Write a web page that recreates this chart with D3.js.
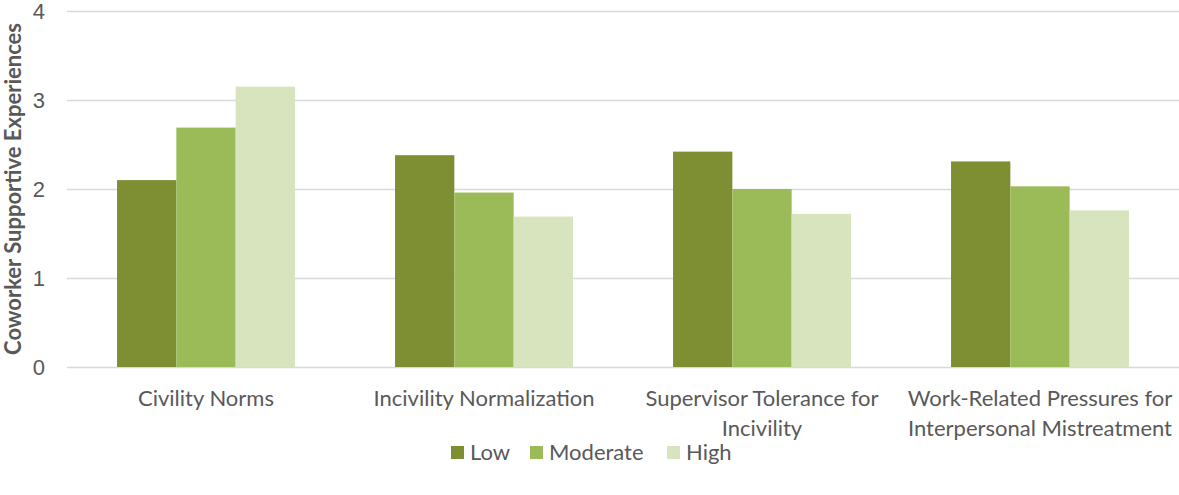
<!DOCTYPE html>
<html>
<head>
<meta charset="utf-8">
<script src="https://cdn.jsdelivr.net/npm/d3@7/dist/d3.min.js"></script>
<style>
  html, body { margin: 0; padding: 0; background: #fff; }
  svg { display: block; font-family: Lato, "Open Sans", sans-serif; }
</style>
</head>
<body>
<svg id="chart" width="1179" height="495"></svg>
<script>
// Coworker supportive experiences by climate dimension and level
const categories = [
  ["Civility Norms"],
  ["Incivility Normalization"],
  ["Supervisor Tolerance for", "Incivility"],
  ["Work-Related Pressures for", "Interpersonal Mistreatment"]
];
const seriesNames = ["Low", "Moderate", "High"];
const lowValues = [2.10, 2.38, 2.42, 2.31];
const moderateValues = [2.69, 1.96, 2.00, 2.03];
const highValues = [3.15, 1.69, 1.72, 1.76];
const yTicks = [0, 1, 2, 3, 4];
const colors = ["#7E8F33", "#9BBB59", "#D7E4BD"];

const svg = d3.select("#chart");
const margin = { left: 67, right: 0, top: 11, bottom: 128 };
const W = 1179, H = 495;
const x0 = d3.scaleBand()
  .domain(d3.range(categories.length))
  .range([margin.left, W - margin.right])
  .paddingInner(0.36).paddingOuter(0.18);
const x1 = d3.scaleBand().domain(seriesNames).range([0, x0.bandwidth()]);
const y = d3.scaleLinear().domain([0, 4]).range([H - margin.bottom, margin.top]);

const seriesValues = [lowValues, moderateValues, highValues];

// gridlines and value axis
const yAxis = d3.axisLeft(y).tickValues(yTicks).tickSize(-(W - margin.left - margin.right)).tickPadding(22).tickFormat(d3.format("d"));
const gy = svg.append("g").attr("transform", `translate(${margin.left},0)`).call(yAxis);
gy.select(".domain").remove();
gy.selectAll(".tick line").attr("stroke", "#d9d9d9").attr("stroke-width", 1.5);
gy.selectAll(".tick text").attr("fill", "#595959").style("font-size", "22px");

// bars
const groups = svg.append("g").selectAll("g")
  .data(categories.map((c, i) => i))
  .join("g")
  .attr("transform", i => `translate(${x0(i)},0)`);
groups.selectAll("rect")
  .data(i => seriesNames.map((s, k) => ({ s, k, v: seriesValues[k][i] })))
  .join("rect")
  .attr("x", d => x1(d.s))
  .attr("width", x1.bandwidth())
  .attr("y", d => y(d.v))
  .attr("height", d => y(0) - y(d.v))
  .attr("fill", d => colors[d.k]);

// category labels
const catG = svg.append("g");
categories.forEach((lines, i) => {
  const t = catG.append("text")
    .attr("x", x0(i) + x0.bandwidth() / 2)
    .attr("y", 406)
    .attr("text-anchor", "middle")
    .attr("fill", "#595959")
    .style("font-size", "22px");
  lines.forEach((ln, j) => {
    t.append("tspan").attr("x", x0(i) + x0.bandwidth() / 2).attr("dy", j === 0 ? 0 : 30).text(ln);
  });
});

// axis title
svg.append("text")
  .attr("transform", `translate(21,${(y(0) + y(4)) / 2}) rotate(-90)`)
  .attr("text-anchor", "middle")
  .attr("fill", "#595959")
  .style("font-size", "22px")
  .style("font-weight", "bold")
  .text("Coworker Supportive Experiences");

// legend
const legendX = [451, 530, 667];
const leg = svg.append("g");
seriesNames.forEach((s, k) => {
  leg.append("rect").attr("x", legendX[k]).attr("y", 446).attr("width", 13).attr("height", 13).attr("fill", colors[k]);
  leg.append("text").attr("x", legendX[k] + 19).attr("y", 460)
    .attr("fill", "#595959").style("font-size", "22px").text(s);
});
</script>
</body>
</html>
